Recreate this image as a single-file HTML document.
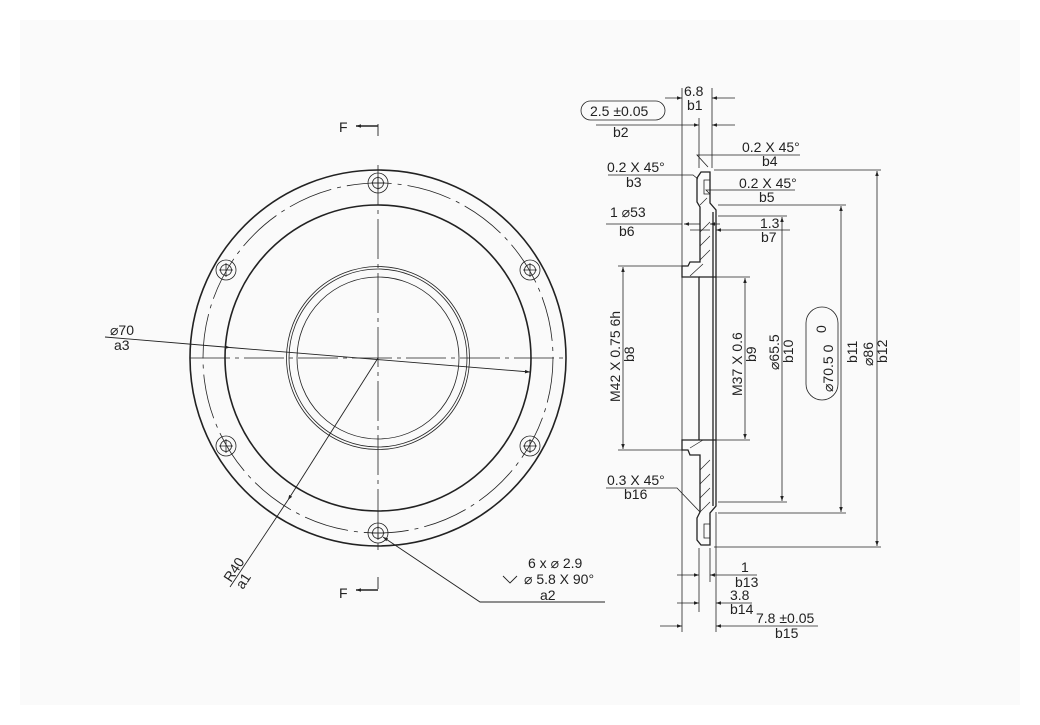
<!DOCTYPE html>
<html><head><meta charset="utf-8"><style>
html,body{margin:0;padding:0;background:#fff;}
svg{display:block;}
text{font-family:"Liberation Sans",sans-serif;font-size:14px;fill:#222;}
</style></head><body>
<svg width="1040" height="725" viewBox="0 0 1040 725" xmlns="http://www.w3.org/2000/svg">
<defs>
<marker id="a" viewBox="0 0 10 10" refX="10" refY="5" markerWidth="9" markerHeight="5" orient="auto-start-reverse" markerUnits="userSpaceOnUse"><path d="M0,1.5 L10,5 L0,8.5z" fill="#222"/></marker>
</defs>
<rect x="20" y="20" width="1000" height="685" fill="#fafafa"/>
<g stroke="#222" fill="none">
<circle cx="378" cy="358" r="188" stroke-width="1.6"/>
<circle cx="378" cy="358" r="175" stroke-width="0.8" stroke-dasharray="45,6,4,6"/>
<circle cx="378" cy="358" r="153" stroke-width="1.6"/>
<circle cx="378" cy="358" r="91.5" stroke-width="0.8"/>
<circle cx="378" cy="358" r="89" stroke-width="0.8"/>
<circle cx="378" cy="358" r="81" stroke-width="0.8"/>
<g stroke-width="0.8">
<line x1="378" y1="165" x2="378" y2="550" stroke-dasharray="40,5,4,5"/>
<line x1="190" y1="358" x2="566" y2="358" stroke-dasharray="40,5,4,5"/>
</g>
<g stroke-width="0.8">
<circle cx="378" cy="183" r="10"/><circle cx="378" cy="183" r="5.5"/>
<circle cx="378" cy="533" r="10"/><circle cx="378" cy="533" r="5.5"/>
<circle cx="226" cy="270" r="10"/><circle cx="226" cy="270" r="5.5"/>
<circle cx="530" cy="270" r="10"/><circle cx="530" cy="270" r="5.5"/>
<circle cx="226" cy="446" r="10"/><circle cx="226" cy="446" r="5.5"/>
<circle cx="530" cy="446" r="10"/><circle cx="530" cy="446" r="5.5"/>
<path d="M371,183h14M378,176v14M371,533h14M378,526v14M219,270h14M226,263v14M523,270h14M530,263v14M219,446h14M226,439v14M523,446h14M530,439v14"/>
</g>
<line x1="105" y1="337" x2="230" y2="347.5" stroke-width="0.9" marker-end="url(#a)"/>
<line x1="230" y1="347.5" x2="530" y2="372" stroke-width="0.9" marker-end="url(#a)"/>
<line x1="378" y1="358" x2="288" y2="500" stroke-width="0.9" marker-end="url(#a)"/>
<line x1="288" y1="500" x2="230" y2="587" stroke-width="0.9"/>
<polyline points="605,602 480,602 383,537" stroke-width="0.9" marker-end="url(#a)"/>
<path d="M503,576 l7,7 l7,-7" stroke-width="0.9"/>
<path d="M378,124 v12 M378,589 v-12" stroke-width="0.9"/>
<line x1="378" y1="126" x2="356" y2="126" stroke-width="1.6" marker-end="url(#a)"/>
<line x1="378" y1="590" x2="356" y2="590" stroke-width="1.6" marker-end="url(#a)"/>

<g stroke-width="0.8">
<line x1="682" y1="88" x2="682" y2="632"/>
<line x1="712" y1="88" x2="712" y2="168"/>
<line x1="699" y1="118" x2="699" y2="168"/>
<line x1="716" y1="512" x2="716" y2="632"/>
<line x1="699" y1="548" x2="699" y2="612"/>
<line x1="710" y1="548" x2="710" y2="582"/>
</g>
<g stroke-width="1.3">
<path d="M697,178 L701,172 L710,172 L710,203 L716,210 L716,506 L710,513 L710,545 L701,545 L697,540 L697,518 L700,512 L700,455 L690,455 L688,450 L682,450 L682,440 L699,440 L699,277 L682,277 L682,266 L688,266 L690,262 L700,262 L700,207 L697,202 Z"/>
<line x1="713" y1="212" x2="713" y2="506"/>
<line x1="699" y1="277" x2="716" y2="277"/>
<line x1="699" y1="440" x2="716" y2="440"/>
<path d="M704,180 h6 v14 h-6 z M704,524 h6 v14 h-6 z" stroke-width="0.8"/>
</g>
<g stroke-width="0.7">
<path d="M700,232 L710,222 M700,246 L710,236 M700,260 L710,250 M690,276 L703,264 M700,205 L707,198"/>
<path d="M700,470 L710,460 M700,484 L710,474 M700,498 L710,488 M690,448 L703,440 M700,512 L710,502"/>
</g>
<g stroke-width="0.8">
<line x1="665" y1="98" x2="682" y2="98" marker-end="url(#a)"/>
<line x1="735" y1="98" x2="712" y2="98" marker-end="url(#a)"/>
<line x1="596" y1="125" x2="699" y2="125" marker-end="url(#a)"/>
<line x1="735" y1="125" x2="712" y2="125" marker-end="url(#a)"/>
<rect x="581" y="101" width="84" height="19" rx="9.5"/>
<polyline points="800,155 697,155 708,167"/>
<polyline points="608,175 693,175 698,179"/>
<polyline points="795,190 706,190 710,194"/>
<line x1="606" y1="224" x2="682" y2="224"/>
<line x1="684" y1="224" x2="700" y2="224" marker-start="url(#a)"/>
<line x1="720" y1="224" x2="710" y2="224" marker-end="url(#a)"/>
<line x1="690" y1="230" x2="710" y2="230"/>
<line x1="735" y1="230" x2="716" y2="230" marker-end="url(#a)"/>
<line x1="735" y1="230" x2="790" y2="230"/>
<polyline points="606,488 677,488 700,512"/>
<line x1="677" y1="575" x2="699" y2="575" marker-end="url(#a)"/>
<line x1="757" y1="575" x2="710" y2="575" marker-end="url(#a)"/>
<line x1="677" y1="603" x2="699" y2="603" marker-end="url(#a)"/>
<line x1="752" y1="603" x2="716" y2="603" marker-end="url(#a)"/>
<line x1="660" y1="626" x2="682" y2="626" marker-end="url(#a)"/>
<line x1="818" y1="626" x2="716" y2="626" marker-end="url(#a)"/>
<line x1="618" y1="266" x2="682" y2="266"/><line x1="618" y1="450" x2="682" y2="450"/>
<line x1="623" y1="267" x2="623" y2="449" marker-start="url(#a)" marker-end="url(#a)"/>
<line x1="716" y1="277" x2="750" y2="277"/><line x1="716" y1="440" x2="750" y2="440"/>
<line x1="745" y1="278" x2="745" y2="439" marker-start="url(#a)" marker-end="url(#a)"/>
<line x1="718" y1="216" x2="787" y2="216"/><line x1="718" y1="502" x2="787" y2="502"/>
<line x1="782" y1="217" x2="782" y2="501" marker-start="url(#a)" marker-end="url(#a)"/>
<line x1="718" y1="205" x2="846" y2="205"/><line x1="718" y1="513" x2="846" y2="513"/>
<line x1="841" y1="206" x2="841" y2="512" marker-start="url(#a)" marker-end="url(#a)"/>
<line x1="714" y1="170" x2="881" y2="170"/><line x1="714" y1="547" x2="881" y2="547"/>
<line x1="877" y1="171" x2="877" y2="546" marker-start="url(#a)" marker-end="url(#a)"/>
<rect x="806" y="307" width="32" height="93" rx="16"/>
</g>
</g>
<g>
<text x="339" y="132" font-size="18">F</text>
<text x="339" y="598" font-size="18">F</text>
<text x="110" y="335">⌀70</text>
<text x="114" y="350">a3</text>
<text x="0" y="0" transform="translate(231,583) rotate(-57)">R40</text>
<text x="0" y="0" transform="translate(243,590) rotate(-57)">a1</text>
<text x="528" y="568">6 x ⌀ 2.9</text>
<text x="524" y="584">⌀ 5.8 X 90°</text>
<text x="540" y="600">a2</text>
<text x="684" y="96">6.8</text>
<text x="687" y="110">b1</text>
<text x="590" y="116">2.5 ±0.05</text>
<text x="613" y="137">b2</text>
<text x="742" y="152">0.2 X 45°</text>
<text x="762" y="166">b4</text>
<text x="607" y="172">0.2 X 45°</text>
<text x="626" y="187">b3</text>
<text x="739" y="188">0.2 X 45°</text>
<text x="759" y="202">b5</text>
<text x="610" y="217">1 ⌀53</text>
<text x="619" y="236">b6</text>
<text x="760" y="228">1.3</text>
<text x="761" y="242">b7</text>
<text x="607" y="485">0.3 X 45°</text>
<text x="624" y="499">b16</text>
<text x="741" y="572">1</text>
<text x="735" y="587">b13</text>
<text x="730" y="600">3.8</text>
<text x="730" y="614">b14</text>
<text x="756" y="623">7.8 ±0.05</text>
<text x="775" y="638">b15</text>
<g transform="rotate(-90)">
<text x="-402" y="620">M42 X 0.75 6h</text>
<text x="-362" y="634">b8</text>
<text x="-396" y="742">M37 X 0.6</text>
<text x="-362" y="756">b9</text>
<text x="-370" y="779">⌀65.5</text>
<text x="-363" y="793">b10</text>
<text x="-333" y="826">0</text>
<text x="-392" y="833">⌀70.5 0</text>
<text x="-363" y="857">b11</text>
<text x="-366" y="873">⌀86</text>
<text x="-363" y="887">b12</text>
</g>
</g>
</svg>
</body></html>
